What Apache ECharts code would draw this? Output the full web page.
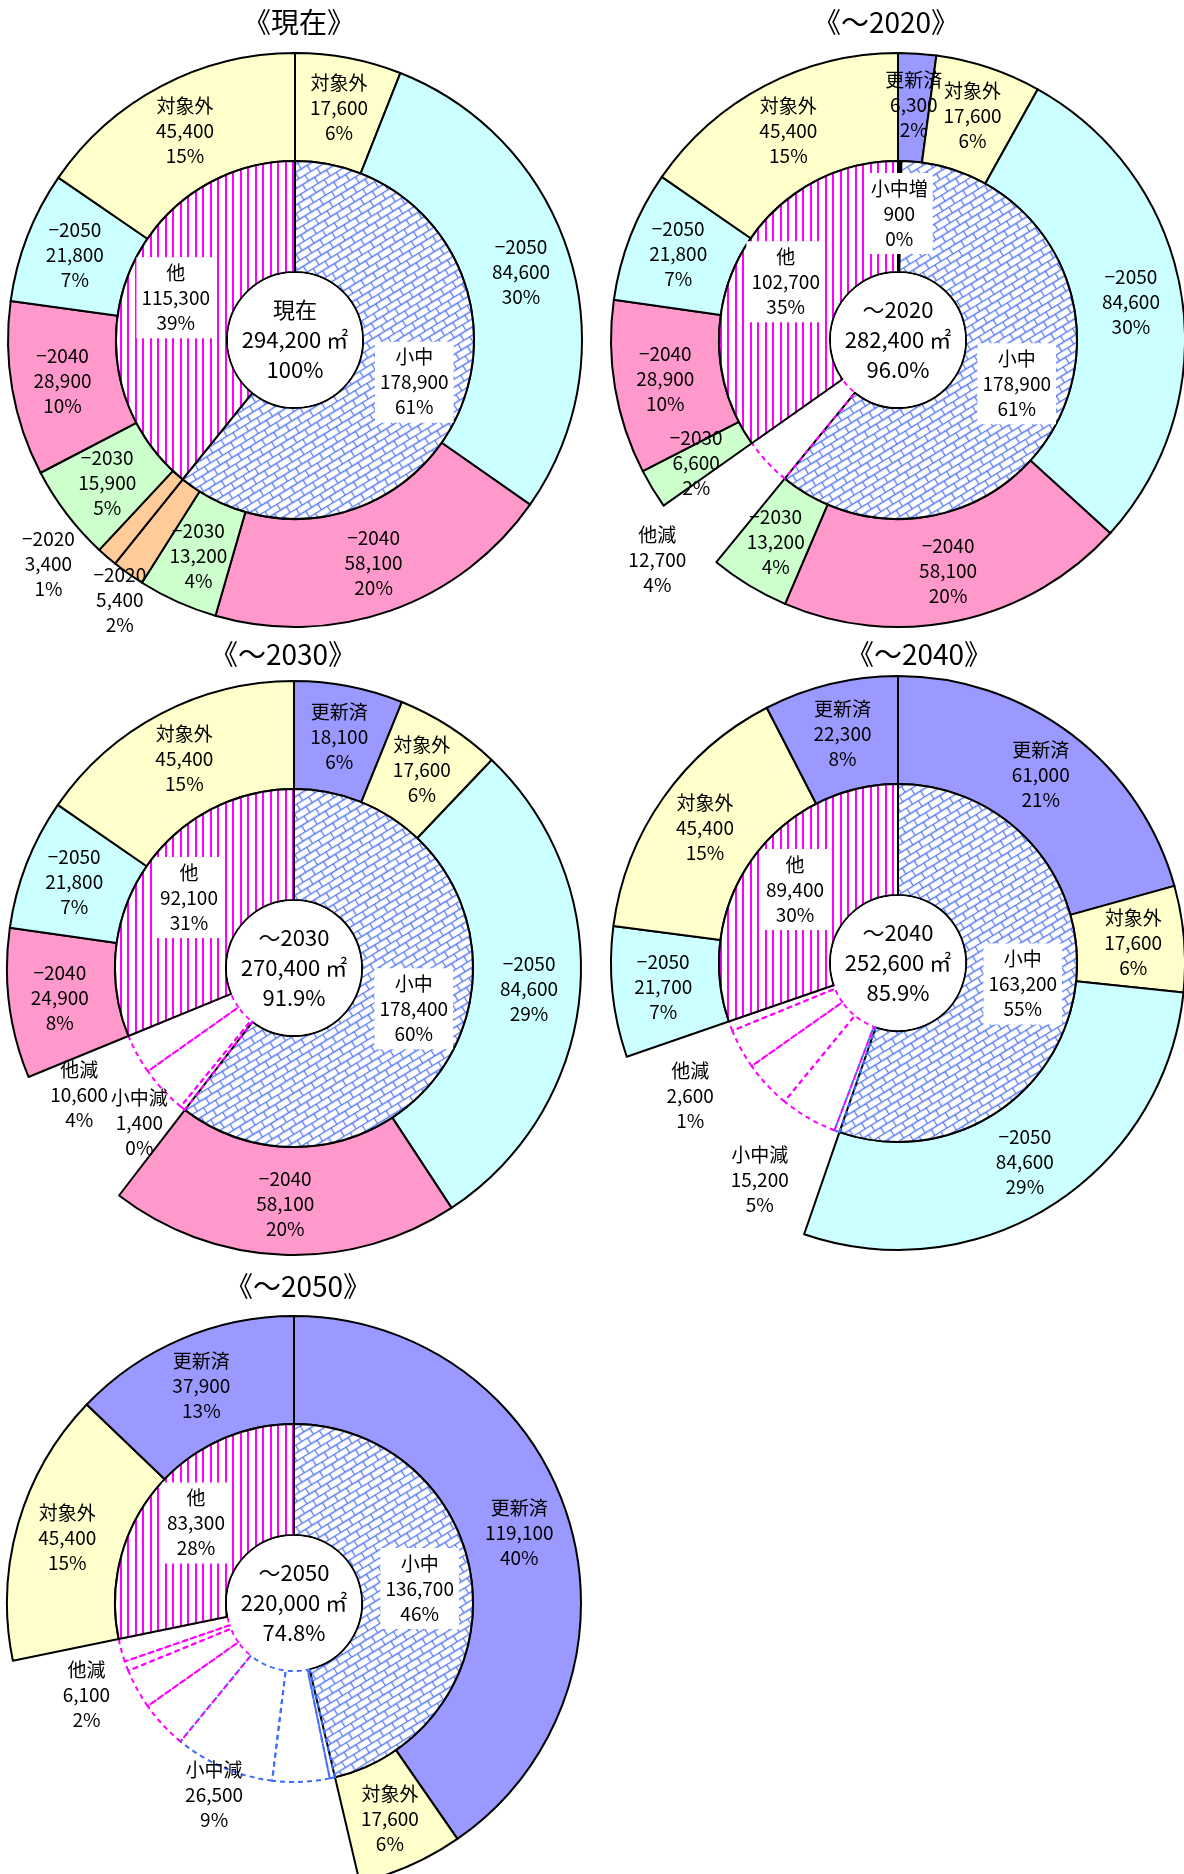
<!DOCTYPE html>
<html lang="ja">
<head>
<meta charset="utf-8">
<title>延床面積の推移</title>
<script src="https://cdn.jsdelivr.net/npm/echarts@6/dist/echarts.min.js"></script>
<style>
  html, body { margin: 0; padding: 0; background: #fff; }
  #chart { width: 1184px; height: 1874px; }
</style>
</head>
<body>
<div id="chart"></div>
<script>
// ---- values ----
var titles = ['《現在》', '《～2020》', '《～2030》', '《～2040》', '《～2050》'];
var centerTexts = [
  ['現在', '294,200', '100%'],
  ['～2020', '282,400', '96.0%'],
  ['～2030', '270,400', '91.9%'],
  ['～2040', '252,600', '85.9%'],
  ['～2050', '220,000', '74.8%']
];

// outer ring, 小中 side, clockwise from 12 o'clock: [name, value, pct]
var smNow  = [['対象外', 17600, '6%'], ['−2050', 84600, '30%'], ['−2040', 58100, '20%'], ['−2030', 13200, '4%'], ['−2020', 5400, '2%']];
var sm2020 = [['更新済', 6300, '2%'], ['対象外', 17600, '6%'], ['−2050', 84600, '30%'], ['−2040', 58100, '20%'], ['−2030', 13200, '4%']];
var sm2030 = [['更新済', 18100, '6%'], ['対象外', 17600, '6%'], ['−2050', 84600, '29%'], ['−2040', 58100, '20%']];
var sm2040 = [['更新済', 61000, '21%'], ['対象外', 17600, '6%'], ['−2050', 84600, '29%']];
var sm2050 = [['更新済', 119100, '40%'], ['対象外', 17600, '6%']];

// outer ring, 他 side, counter-clockwise from 12 o'clock
var otNow  = [['対象外', 45400, '15%'], ['−2050', 21800, '7%'], ['−2040', 28900, '10%'], ['−2030', 15900, '5%'], ['−2020', 3400, '1%']];
var ot2020 = [['対象外', 45400, '15%'], ['−2050', 21800, '7%'], ['−2040', 28900, '10%'], ['−2030', 6600, '2%']];
var ot2030 = [['対象外', 45400, '15%'], ['−2050', 21800, '7%'], ['−2040', 24900, '8%']];
var ot2040 = [['更新済', 22300, '8%'], ['対象外', 45400, '15%'], ['−2050', 21700, '7%']];
var ot2050 = [['更新済', 37900, '13%'], ['対象外', 45400, '15%']];

// inner ring
var inNow  = [['小中', 178900, '61%'], ['他', 115300, '39%']];
var in2020 = [['小中増', 900, '0%'], ['小中', 178900, '61%'], ['他', 102700, '35%']];
var in2030 = [['小中', 178400, '60%'], ['他', 92100, '31%']];
var in2040 = [['小中', 163200, '55%'], ['他', 89400, '30%']];
var in2050 = [['小中', 136700, '46%'], ['他', 83300, '28%']];

// removed floor area (gap between 小中 and 他), oldest first; pct null = no label
var gapNow  = [];
var gap2020 = [['他減', 12700, '4%']];
var gap2030 = [['小中減', 1400, '0%'], ['他減', 12700, null], ['他減', 10600, '4%']];
var gap2040 = [['小中減', 1400, null], ['小中減', 15200, '5%'], ['他減', 12700, null], ['他減', 10600, null], ['他減', 2600, '1%']];
var gap2050 = [['小中減', 1400, null], ['小中減', 15200, null], ['小中減', 26500, '9%'], ['他減', 12700, null], ['他減', 10600, null], ['他減', 2600, null], ['他減', 6100, '2%']];

// ---- layout & style ----
var centers = [[295, 340], [898, 340], [294, 968], [898, 963], [294, 1603]];
var titlePos = [[294, 3], [881, 3], [278, 635], [914, 635], [293, 1267]];
var R_OUT = 287, R_MID = 179, R_IN = 68;
// label nudges for the crowded small slices
var nudges = [
  { 'sm:−2020': [-38, 68], 'ot:−2020': [-92, 45] },
  { 'gap:他減': [-68, 59] },
  { 'gap:小中減': [-8, -30], 'gap:他減': [-8, 13] },
  { 'gap:小中減': [-20, 13], 'gap:他減': [13, 50] },
  { 'gap:小中減': [13, -25], 'gap:他減': [20, 29] }
];
// outline colour of each gap slice: b = blue, m = magenta
var gapColors = [[], ['m'], ['m', 'm', 'm'], ['b', 'm', 'm', 'm', 'm'], ['b', 'b', 'b', 'm', 'm', 'm', 'm']];
var FONT = '"Noto Sans CJK JP", "Noto Sans", sans-serif';

function brickPattern() {
  var s = 14, h = 7;
  var cv = document.createElement('canvas');
  cv.width = s; cv.height = 2 * h;
  var g = cv.getContext('2d');
  g.fillStyle = '#fff'; g.fillRect(0, 0, s, 2 * h);
  g.strokeStyle = '#5577f5'; g.lineWidth = 1.3;
  g.beginPath();
  g.moveTo(0, 0.5); g.lineTo(s, 0.5);
  g.moveTo(0, h + 0.5); g.lineTo(s, h + 0.5);
  g.moveTo(0.5, 0); g.lineTo(0.5, h);
  g.moveTo(s / 2 + 0.5, h); g.lineTo(s / 2 + 0.5, 2 * h);
  g.stroke();
  return { image: cv, repeat: 'repeat', rotation: -0.55 };
}
function stripePattern() {
  var cv = document.createElement('canvas');
  cv.width = 15; cv.height = 4;
  var g = cv.getContext('2d');
  g.fillStyle = '#fff'; g.fillRect(0, 0, 15, 4);
  g.fillStyle = '#ff00ff';
  g.fillRect(0, 0, 2, 4);
  g.fillRect(7, 0, 2, 4);
  return { image: cv, repeat: 'repeat' };
}

var fills = {
  '対象外': '#ffffcc', '−2050': '#ccffff', '−2040': '#ff99cc', '−2030': '#ccffcc',
  '−2020': '#ffcc99', '更新済': '#9999ff', '小中増': '#000',
  '小中': brickPattern(), '他': stripePattern()
};
var lineCols = { b: '#3d6bff', m: '#ff00ff' };

function fmt(v) { return v.toLocaleString('en-US'); }

function txt(d) { return d[0] + '\n' + fmt(d[1]) + '\n' + d[2]; }

function ringSeries(k, data, nudge, radius, inner) {
  return {
    type: 'pie', center: centers[k], radius: radius,
    startAngle: 90, clockwise: true, silent: true,
    avoidLabelOverlap: false, animation: false,
    labelLine: { show: false },
    emphasis: { disabled: true },
    label: {
      show: true, position: 'inside', rotate: 0,
      formatter: function (p) { return p.data.txt; },
      color: '#000', fontFamily: FONT, fontSize: 19, lineHeight: 25,
      backgroundColor: inner ? '#fff' : 'transparent',
      padding: inner ? [3, 5] : 0
    },
    labelLayout: function (p) {
      var n = nudge[p.dataIndex];
      return n ? { dx: n[0], dy: n[1] } : {};
    },
    data: data
  };
}

function buildChart(k, sm, ot, inner, gap) {
  var nd = nudges[k];
  var outer = [], outerN = [];
  function solid(d, side) {
    outer.push({
      name: d[0], value: d[1], txt: txt(d),
      itemStyle: { color: fills[d[0]], borderColor: '#000', borderWidth: 2 }
    });
    outerN.push(nd[side + ':' + d[0]]);
  }
  function hole(d) {
    outer.push({
      name: d[0], value: d[1], txt: d[2] ? txt(d) : '',
      itemStyle: { color: 'rgba(0,0,0,0)', borderWidth: 0 },
      label: { show: !!d[2] }
    });
    outerN.push(d[2] ? nd['gap:' + d[0]] : null);
  }
  sm.forEach(function (d) { solid(d, 'sm'); });
  gap.forEach(hole);
  ot.slice().reverse().forEach(function (d) { solid(d, 'ot'); });

  var inn = [];
  function innerSlice(d) {
    inn.push({
      name: d[0], value: d[1], txt: txt(d),
      itemStyle: { color: fills[d[0]], borderColor: '#000', borderWidth: 2 }
    });
  }
  inner.forEach(function (d) { if (d[0] !== '他') innerSlice(d); });
  gap.forEach(function (d, i) {
    inn.push({
      name: d[0], value: d[1], txt: '',
      itemStyle: {
        color: 'rgba(0,0,0,0)', borderColor: lineCols[gapColors[k][i]],
        borderWidth: 2, borderType: [5, 4]
      },
      label: { show: false }
    });
  });
  inner.forEach(function (d) { if (d[0] === '他') innerSlice(d); });

  var c = centerTexts[k];
  var centerSeries = {
    type: 'pie', center: centers[k], radius: [0, R_IN - 1],
    silent: true, animation: false, emphasis: { disabled: true },
    labelLine: { show: false },
    label: {
      show: true, position: 'center', color: '#000', fontFamily: FONT,
      fontSize: 22, lineHeight: 30,
      formatter: c[0] + '\n' + c[1] + ' ㎡\n' + c[2]
    },
    itemStyle: { color: '#fff', borderWidth: 0 },
    data: [{ name: c[0], value: 1 }]
  };

  return [
    ringSeries(k, outer, outerN, [R_MID, R_OUT], false),
    ringSeries(k, inn, [], [R_IN, R_MID], true),
    centerSeries
  ];
}

var series = []
  .concat(buildChart(0, smNow, otNow, inNow, gapNow))
  .concat(buildChart(1, sm2020, ot2020, in2020, gap2020))
  .concat(buildChart(2, sm2030, ot2030, in2030, gap2030))
  .concat(buildChart(3, sm2040, ot2040, in2040, gap2040))
  .concat(buildChart(4, sm2050, ot2050, in2050, gap2050));

var chart = echarts.init(document.getElementById('chart'), null, { renderer: 'canvas' });
chart.setOption({
  animation: false,
  backgroundColor: '#fff',
  title: titles.map(function (t, i) {
    return {
      text: t, left: titlePos[i][0], top: titlePos[i][1], textAlign: 'center',
      textStyle: { fontFamily: FONT, fontSize: 28, fontWeight: 'normal', color: '#000' }
    };
  }),
  series: series
});
</script>
</body>
</html>
